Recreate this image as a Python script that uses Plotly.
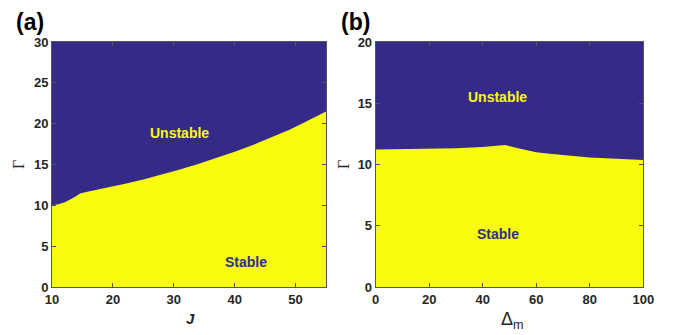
import plotly.graph_objects as go

# Panel (a): stability boundary Gamma vs J
J_vals = [10, 11, 12, 13, 14, 14.6, 16, 18, 20, 22, 25, 28, 31, 34, 37, 40, 43, 46, 49, 52, 55]
gamma_a = [10.0, 10.12, 10.35, 10.7, 11.15, 11.45, 11.68, 11.98, 12.3, 12.64, 13.17, 13.75,
           14.38, 15.05, 15.77, 16.55, 17.4, 18.3, 19.25, 20.35, 21.5]

# Panel (b): stability boundary Gamma vs Delta_m
delta_vals = [0, 10, 20, 30, 40, 45, 48.3, 52, 56, 60, 65, 70, 80, 90, 100]
gamma_b = [11.22, 11.25, 11.28, 11.33, 11.42, 11.5, 11.6, 11.38, 11.16, 11.0, 10.87,
           10.76, 10.58, 10.46, 10.37]

x_ticks_a = [10, 20, 30, 40, 50]
y_ticks_a = [0, 5, 10, 15, 20, 25, 30]
x_ticks_b = [0, 20, 40, 60, 80, 100]
y_ticks_b = [0, 5, 10, 15, 20]

BLUE = "#352A87"
YELLOW = "#F9FB0E"
AXC = "#262626"

fig = go.Figure()
fig.add_trace(go.Scatter(x=J_vals, y=gamma_a, fill="tozeroy", fillcolor=YELLOW,
                         mode="lines", line=dict(width=0, color=YELLOW),
                         xaxis="x", yaxis="y", showlegend=False, hoverinfo="skip"))
fig.add_trace(go.Scatter(x=delta_vals, y=gamma_b, fill="tozeroy", fillcolor=YELLOW,
                         mode="lines", line=dict(width=0, color=YELLOW),
                         xaxis="x2", yaxis="y2", showlegend=False, hoverinfo="skip"))

W, H = 681, 335
yd = [1 - 287 / H, 1 - 42 / H]
tickfont = dict(family="Arial, Liberation Sans", size=13, color=AXC, weight="bold")
common = dict(showline=True, linecolor="#555555", linewidth=1, mirror="ticks",
              ticks="inside", ticklen=4, tickcolor="#555555", showgrid=False,
              zeroline=False, tickfont=tickfont, automargin=False)

fig.update_layout(
    width=W, height=H, margin=dict(l=0, r=0, t=0, b=0),
    paper_bgcolor="white", plot_bgcolor=BLUE,
    xaxis=dict(domain=[52 / W, 326 / W], range=[10, 55], tickvals=x_ticks_a,
               anchor="y", **common),
    yaxis=dict(domain=yd, range=[0, 30], tickvals=y_ticks_a, anchor="x", **common),
    xaxis2=dict(domain=[375.7 / W, 643.3 / W], range=[0, 100], tickvals=x_ticks_b,
                anchor="y2", **common),
    yaxis2=dict(domain=yd, range=[0, 20], tickvals=y_ticks_b, anchor="x2", **common),
)

# second panel background
fig.add_shape(type="rect", xref="x2", yref="y2", x0=0, x1=100, y0=0, y1=20,
              fillcolor=BLUE, line=dict(width=0), layer="below")

lab = dict(family="Arial, Liberation Sans", size=14, weight="bold")
ann = [
    dict(x=31, y=18.9, xref="x", yref="y", text="Unstable", font=dict(color=YELLOW, **lab)),
    dict(x=41.9, y=3.1, xref="x", yref="y", text="Stable", font=dict(color="#2E2E8E", **lab)),
    dict(x=45.6, y=15.5, xref="x2", yref="y2", text="Unstable", font=dict(color=YELLOW, **lab)),
    dict(x=45.6, y=4.3, xref="x2", yref="y2", text="Stable", font=dict(color="#2E2E8E", **lab)),
    dict(x=30, y=22, xref="paper", yref="paper", text="(a)",
         font=dict(family="Arial, Liberation Sans", size=23, color="black", weight="bold")),
    dict(x=355, y=22, xref="paper", yref="paper", text="(b)",
         font=dict(family="Arial, Liberation Sans", size=23, color="black", weight="bold")),
    dict(x=190, y=318, text="<i>J</i>",
         font=dict(family="Arial, Liberation Sans", size=15, color=AXC, weight="bold")),
    dict(x=512, y=320, text="Δ<sub>m</sub>",
         font=dict(family="Arial, Liberation Sans", size=18, color=AXC)),
    dict(x=18, y=165, text="Γ", textangle=-90,
         font=dict(family="Liberation Serif, Times New Roman", size=16, color=AXC)),
    dict(x=343, y=165, text="Γ", textangle=-90,
         font=dict(family="Liberation Serif, Times New Roman", size=16, color=AXC)),
]
for a in ann:
    if a.get("xref") == "paper":
        a["x"] = a["x"] / W
        a["y"] = 1 - a["y"] / H
    elif "xref" not in a:
        a["xref"] = "paper"
        a["yref"] = "paper"
        a["x"] = a["x"] / W
        a["y"] = 1 - a["y"] / H
    a["showarrow"] = False
    a["xanchor"] = "center"
    a["yanchor"] = "middle"
    fig.add_annotation(**a)

fig.write_html("out.html")
